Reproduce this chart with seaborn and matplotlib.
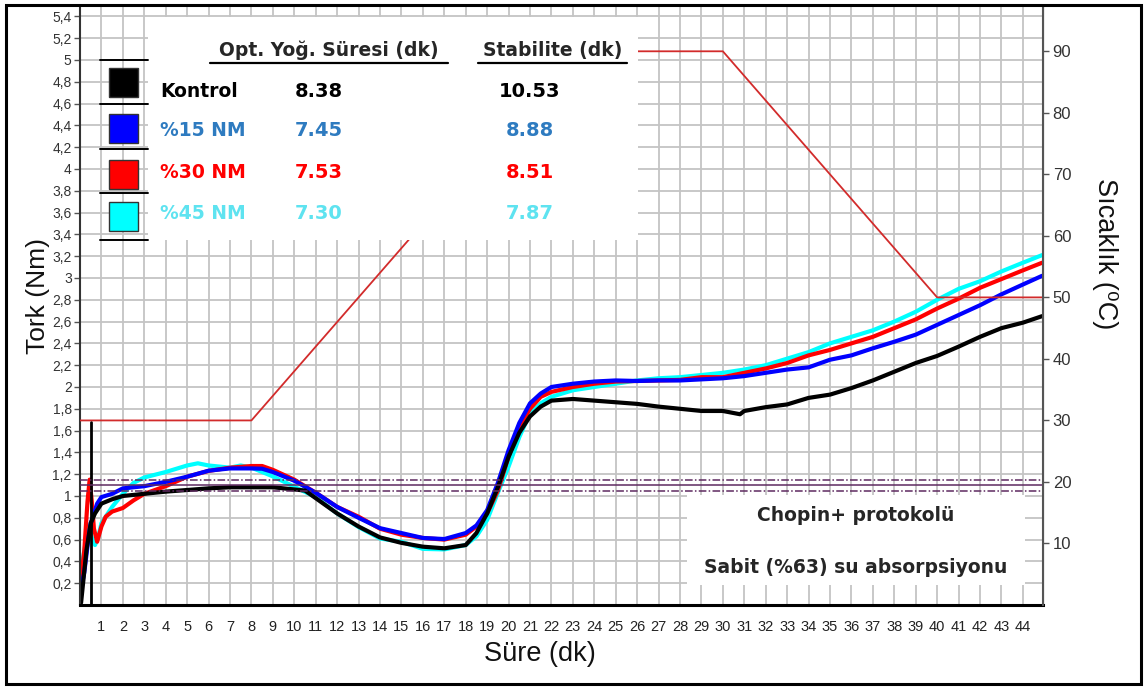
import matplotlib
matplotlib.use("Agg")
import matplotlib.pyplot as plt
import seaborn as sns
from matplotlib.patches import Rectangle
from matplotlib.lines import Line2D

# ============================================================
# DATA
# ============================================================

t_kontrol = [0.05, 0.3, 0.5, 0.7, 1, 1.5, 2, 3, 4, 5, 6, 7, 8, 9, 10, 10.5, 11, 12, 13, 14,
             15, 16, 17, 18, 18.5, 19, 19.5, 20, 20.5, 21, 21.5, 22, 23, 24, 25, 26, 27, 28,
             29, 30, 30.8, 31, 32, 33, 34, 35, 36, 37, 38, 39, 40, 41, 42, 43, 44, 44.9]
tork_kontrol = [0.02, 0.5, 0.75, 0.84, 0.93, 0.97, 1.0, 1.02, 1.04, 1.055, 1.07, 1.08, 1.08,
                1.08, 1.06, 1.05, 0.98, 0.84, 0.72, 0.62, 0.57, 0.535, 0.52, 0.55, 0.66, 0.84,
                1.08, 1.36, 1.58, 1.73, 1.82, 1.875, 1.89, 1.875, 1.86, 1.845, 1.82, 1.80,
                1.78, 1.78, 1.75, 1.78, 1.815, 1.84, 1.90, 1.93, 1.99, 2.06, 2.14, 2.22,
                2.285, 2.37, 2.46, 2.54, 2.59, 2.65]

# start-up spike of the control run
spike_t = [0.52, 0.52]
spike_tork = [0.0, 1.68]

t_nm15 = [0.0, 0.2, 0.4, 0.5, 0.8, 1, 1.5, 2, 3, 4, 5, 6, 7, 8, 8.5, 9, 10, 11, 12, 13, 14,
          15, 16, 17, 18, 18.5, 19, 19.5, 20, 20.5, 21, 21.5, 22, 23, 24, 25, 26, 27, 28,
          29, 30, 31, 32, 33, 34, 35, 36, 37, 38, 39, 40, 41, 42, 43, 44, 44.9]
tork_nm15 = [0.1, 0.3, 0.62, 0.75, 0.93, 0.99, 1.02, 1.07, 1.09, 1.13, 1.177, 1.232, 1.253,
             1.253, 1.25, 1.22, 1.14, 1.03, 0.90, 0.80, 0.705, 0.66, 0.615, 0.605, 0.66,
             0.73, 0.87, 1.12, 1.42, 1.67, 1.85, 1.94, 2.0, 2.03, 2.05, 2.06, 2.055, 2.06,
             2.06, 2.07, 2.08, 2.10, 2.13, 2.16, 2.18, 2.25, 2.29, 2.355, 2.415, 2.48,
             2.57, 2.66, 2.75, 2.85, 2.94, 3.02]

t_nm30 = [0.0, 0.2, 0.35, 0.45, 0.55, 0.65, 0.8, 1.0, 1.2, 1.5, 2, 2.5, 3, 4, 5, 6, 7, 8,
          8.5, 9, 10, 11, 12, 13, 14, 15, 16, 17, 18, 18.5, 19, 19.5, 20, 20.5, 21, 21.5,
          22, 23, 24, 25, 26, 27, 28, 29, 30, 31, 32, 33, 34, 35, 36, 37, 38, 39, 40, 41,
          42, 43, 44, 44.9]
tork_nm30 = [0.15, 0.5, 0.95, 1.15, 0.95, 0.7, 0.58, 0.72, 0.81, 0.857, 0.89, 0.96, 1.02,
             1.09, 1.177, 1.23, 1.26, 1.275, 1.275, 1.24, 1.15, 1.03, 0.90, 0.81, 0.70,
             0.645, 0.615, 0.60, 0.645, 0.72, 0.84, 1.05, 1.36, 1.63, 1.80, 1.91, 1.955,
             2.0, 2.03, 2.05, 2.055, 2.06, 2.065, 2.09, 2.09, 2.13, 2.17, 2.22, 2.29, 2.34,
             2.40, 2.46, 2.54, 2.62, 2.72, 2.81, 2.91, 2.99, 3.07, 3.14]

t_nm45 = [0.0, 0.2, 0.4, 0.55, 0.7, 0.85, 1.0, 1.5, 2, 2.5, 3, 4, 5, 5.5, 6, 7, 7.5, 8, 9,
          10, 11, 12, 13, 14, 15, 16, 17, 18, 18.5, 19, 19.5, 20, 20.5, 21, 21.5, 22, 23,
          24, 25, 26, 27, 28, 29, 30, 31, 32, 33, 34, 35, 36, 37, 38, 39, 40, 41, 42, 43,
          44, 44.9]
tork_nm45 = [0.28, 0.5, 0.72, 0.62, 0.55, 0.62, 0.75, 0.90, 1.02, 1.12, 1.17, 1.22, 1.28,
             1.30, 1.28, 1.26, 1.28, 1.26, 1.18, 1.085, 0.99, 0.84, 0.715, 0.61, 0.58,
             0.515, 0.51, 0.55, 0.63, 0.78, 1.03, 1.27, 1.54, 1.76, 1.85, 1.91, 1.97, 2.0,
             2.03, 2.06, 2.08, 2.09, 2.11, 2.13, 2.16, 2.20, 2.26, 2.32, 2.40, 2.46, 2.52,
             2.60, 2.69, 2.80, 2.90, 2.97, 3.06, 3.14, 3.21]

# Chopin+ temperature protocol (right axis)
temp_t = [0, 8, 23, 30, 40, 44.94, 44.94]
temp_c = [30, 30, 90, 90, 50, 50, 0]

# target torque band
band_levels = [1.05, 1.10, 1.15]
band_styles = [(0, (5, 1.5, 1, 1.5)), "-", (0, (5, 1.5, 1, 1.5))]

# legend table
names = ["Kontrol", "%15 NM", "%30 NM", "%45 NM"]
opt_time = ["8.38", "7.45", "7.53", "7.30"]
stability = ["10.53", "8.88", "8.51", "7.87"]
line_colors = ["black", "#0000FF", "#FF0000", "#00FFFF"]
text_colors = ["black", "#2E7BC0", "#FF0000", "#5EE3F0"]

x_ticks = list(range(1, 45))
y_ticks = [round(0.2 * i, 1) for i in range(1, 28)]
temp_ticks = [10, 20, 30, 40, 50, 60, 70, 80, 90]

# ============================================================
# FIGURE
# ============================================================

sns.set_style("white")
sans = ["Liberation Sans", "DejaVu Sans"]
plt.rcParams["font.family"] = sans

fig = plt.figure(figsize=(11.44, 6.88), dpi=100)
ax = fig.add_axes([80 / 1144, 83 / 688, 963 / 1144, 598 / 688])
ax2 = ax.twinx()

ax.set_xlim(0, 44.94)
ax.set_ylim(0, 5.486)
ax2.set_ylim(0, 97.2)

# grid
ax.set_xticks(x_ticks)
ax.set_xticklabels([str(v) for v in x_ticks], fontsize=10.5, color="#222")
ax.set_yticks(y_ticks)
ax.set_yticklabels([f"{v:g}".replace(".", ",") for v in y_ticks], fontsize=10, color="#333")
ax.grid(True, color="#c4c4c4", linewidth=1.3)
ax.set_axisbelow(True)

ax.tick_params(axis="x", direction="in", length=5, width=1.8, color="black", pad=11)
ax.tick_params(axis="y", direction="out", length=4, width=1, color="#555", pad=2)

# torque curves
for t, v, c in [(t_nm45, tork_nm45, line_colors[3]),
                (t_nm30, tork_nm30, line_colors[2]),
                (t_nm15, tork_nm15, line_colors[1]),
                (t_kontrol, tork_kontrol, line_colors[0])]:
    sns.lineplot(x=t, y=v, ax=ax, color=c, linewidth=3, estimator=None,
                 sort=False, legend=False)

sns.lineplot(x=spike_t, y=spike_tork, ax=ax, color="black", linewidth=2,
             estimator=None, sort=False, legend=False)

for lvl, ls in zip(band_levels, band_styles):
    ax.axhline(lvl, color="#5E2A60", linewidth=1.1, linestyle=ls, zorder=3)

# temperature
sns.lineplot(x=temp_t, y=temp_c, ax=ax2, color="#D22B2B", linewidth=1.3,
             estimator=None, sort=False, legend=False)
ax2.set_yticks(temp_ticks)
ax2.set_yticklabels([str(v) for v in temp_ticks], fontsize=12, color="#333")
ax2.tick_params(axis="y", direction="out", length=4, width=1, color="#555", pad=3)

# spines
for a in (ax, ax2):
    a.spines["top"].set_visible(False)
ax.spines["left"].set_color("#333")
ax.spines["left"].set_linewidth(1.5)
ax.spines["bottom"].set_color("black")
ax.spines["bottom"].set_linewidth(2.2)
ax2.spines["right"].set_color("#555")
ax2.spines["right"].set_linewidth(1.5)
ax2.spines["left"].set_visible(False)
ax2.spines["bottom"].set_visible(False)

# axis labels
ax.set_xlabel("Süre (dk)", fontsize=19.5, color="#111")
ax.xaxis.set_label_coords(0.478, -0.060)
ax.set_ylabel("Tork (Nm)", fontsize=19, color="#111")
ax.yaxis.set_label_coords(-0.031, 0.517)
ax2.set_ylabel("Sıcaklık (⁰C)", fontsize=19.5, color="#111", rotation=270,
               va="bottom", family=sans)
ax2.yaxis.set_label_coords(1.051, 0.587)

# ============================================================
# LEGEND TABLE (top-left)
# ============================================================

tr = ax2.transAxes
legend_font = "DejaVu Sans"

ax2.add_patch(Rectangle((0.0706, 0.6104), 0.5088, 0.3726, transform=tr,
                        facecolor="white", edgecolor="none", zorder=5))

for x0, x1 in [(0.135, 0.382), (0.413, 0.568)]:
    ax2.add_line(Line2D([x0, x1], [0.907, 0.907], transform=tr, color="black",
                        linewidth=1.6, zorder=6))
ax2.text(0.2586, 0.928, "Opt. Yoğ. Süresi (dk)", transform=tr, ha="center",
         va="center", fontsize=13.5, fontweight="bold", family=legend_font, zorder=7)
ax2.text(0.491, 0.928, "Stabilite (dk)", transform=tr, ha="center",
         va="center", fontsize=13.5, fontweight="bold", family=legend_font, zorder=7)

sep_y = [0.911, 0.838, 0.763, 0.689, 0.610]
for y in sep_y:
    ax2.add_line(Line2D([0.0208, 0.0706], [y, y], transform=tr, color="black",
                        linewidth=1.4, zorder=6))

square_y = [0.874, 0.797, 0.720, 0.650]
text_y = [0.8595, 0.794, 0.724, 0.6555]
for i in range(4):
    ax2.add_patch(Rectangle((0.030, square_y[i] - 0.0245), 0.030, 0.049,
                            transform=tr, facecolor=line_colors[i],
                            edgecolor="#333", linewidth=1, zorder=6))
    ax2.text(0.083, text_y[i], names[i], transform=tr, ha="left", va="center",
             fontsize=13.5, fontweight="bold", color=text_colors[i],
             family=legend_font, zorder=7)
    ax2.text(0.248, text_y[i], opt_time[i], transform=tr, ha="center", va="center",
             fontsize=14, fontweight="bold", color=text_colors[i],
             family=legend_font, zorder=7)
    ax2.text(0.467, text_y[i], stability[i], transform=tr, ha="center", va="center",
             fontsize=14, fontweight="bold", color=text_colors[i],
             family=legend_font, zorder=7)

# ============================================================
# PROTOCOL NOTE (bottom-right)
# ============================================================

ax2.add_patch(Rectangle((0.630, 0.0334), 0.351, 0.1506, transform=tr,
                        facecolor="white", edgecolor="none", zorder=5))
ax2.text(0.805, 0.1505, "Chopin+ protokolü", transform=tr, ha="center", va="center",
         fontsize=13.5, fontweight="bold", family=legend_font, zorder=7)
ax2.text(0.805, 0.062, "Sabit (%63) su absorpsiyonu", transform=tr, ha="center",
         va="center", fontsize=13.5, fontweight="bold", family=legend_font, zorder=7)

# figure frame
fig.patches.append(Rectangle((0.0052, 0.0058), 0.9922, 0.9869, transform=fig.transFigure,
                             fill=False, edgecolor="black", linewidth=2.2))

fig.savefig("out.png", dpi=100)
